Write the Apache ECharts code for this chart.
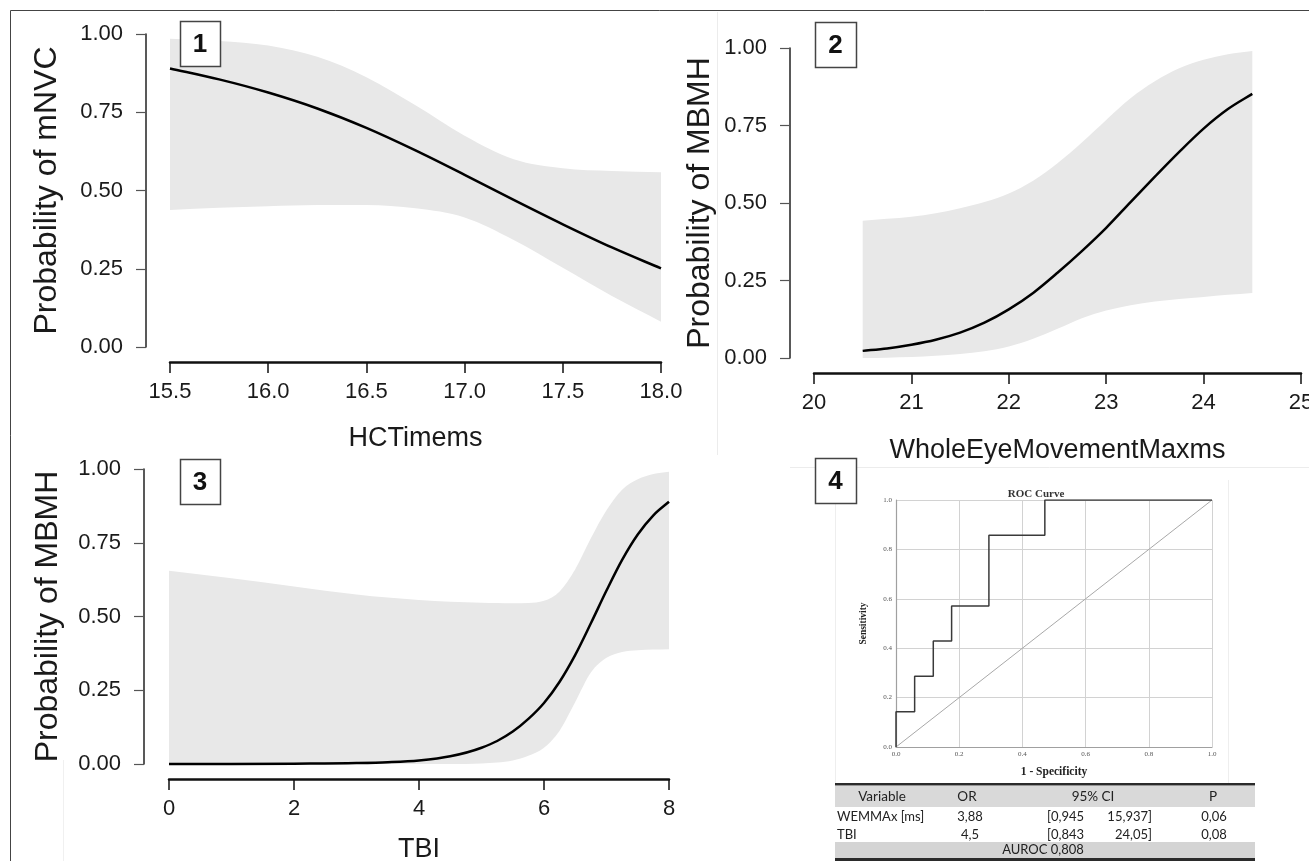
<!DOCTYPE html>
<html><head><meta charset="utf-8">
<script src="https://cdn.jsdelivr.net/npm/echarts@6/dist/echarts.min.js"></script>
<style>html,body{margin:0;padding:0;background:#fff}#c{width:1309px;height:861px}</style>
</head><body><div id="c"></div>
<script>
// ---------- Panel 1 : HCTimems vs probability of mNVC ----------
const p1X     = [15.5, 15.75, 16.0, 16.25, 16.5, 16.75, 17.0, 17.25, 17.5, 17.75, 18.0];
const p1Fit   = [0.890, 0.855, 0.813, 0.762, 0.700, 0.628, 0.550, 0.470, 0.392, 0.318, 0.251];
const p1Lower = [0.438, 0.445, 0.450, 0.454, 0.454, 0.443, 0.414, 0.342, 0.253, 0.163, 0.081];
const p1Upper = [0.985, 0.978, 0.963, 0.927, 0.862, 0.772, 0.675, 0.600, 0.571, 0.562, 0.558];

// ---------- Panel 2 : WholeEyeMovementMaxms vs probability of MBMH ----------
const p2X     = [20.5, 20.75, 21.0, 21.25, 21.5, 21.75, 22.0, 22.25, 22.5, 22.75, 23.0, 23.25, 23.5, 23.75, 24.0, 24.25, 24.5];
const p2Fit   = [0.023, 0.031, 0.043, 0.059, 0.082, 0.114, 0.157, 0.210, 0.275, 0.345, 0.420, 0.503, 0.585, 0.665, 0.740, 0.803, 0.852];
const p2Lower = [0.000, 0.001, 0.003, 0.007, 0.013, 0.022, 0.037, 0.062, 0.094, 0.128, 0.153, 0.170, 0.182, 0.190, 0.197, 0.204, 0.210];
const p2Upper = [0.443, 0.449, 0.456, 0.467, 0.483, 0.503, 0.531, 0.572, 0.628, 0.695, 0.768, 0.838, 0.893, 0.935, 0.962, 0.980, 0.990];

// ---------- Panel 3 : TBI vs probability of MBMH ----------
const p3X     = [0, 1, 2, 3, 3.5, 4, 4.5, 5, 5.25, 5.5, 5.75, 6, 6.25, 6.5, 6.75, 7, 7.25, 7.5, 7.75, 8];
const p3Fit   = [0.000, 0.000, 0.001, 0.003, 0.006, 0.012, 0.026, 0.055, 0.078, 0.110, 0.153, 0.207, 0.279, 0.370, 0.477, 0.588, 0.692, 0.778, 0.843, 0.889];
const p3Lower = [0.000, 0.000, 0.000, 0.000, 0.000, 0.000, 0.000, 0.002, 0.005, 0.012, 0.028, 0.055, 0.113, 0.210, 0.310, 0.360, 0.380, 0.386, 0.388, 0.389];
const p3Upper = [0.655, 0.630, 0.602, 0.575, 0.564, 0.556, 0.550, 0.547, 0.546, 0.545, 0.546, 0.553, 0.585, 0.660, 0.765, 0.860, 0.930, 0.965, 0.983, 0.991];

// ---------- Panel 4 : ROC curve ----------
const rocFpr = [0, 0, 0.059, 0.118, 0.176, 0.294, 0.471, 1];
const rocTpr = [0, 0.143, 0.286, 0.429, 0.571, 0.857, 1, 1];
const refFpr = [0, 1];
const refTpr = [0, 1];

// ---------- Table ----------
const tableHeader = ['Variable', 'OR', '95% CI', 'P'];
const tableRows = [
  ['WEMMAx [ms]', '3,88', '[0,945', '15,937]', '0,06'],
  ['TBI', '4,5', '[0,843', '24,05]', '0,08']
];
const tableFooter = 'AUROC 0,808';
const panelLabels = ['1', '2', '3', '4'];

// ---------- styling ----------
const FONT = '"Liberation Sans", Arial, sans-serif';
const SERIF = '"Liberation Serif", "Times New Roman", serif';
const TFONT = 'Lato, "Open Sans", sans-serif';
const TXT = '#1a1a1a';
const BAND = '#e8e8e8';

// smooth monotone-safe cubic segments through pixel points with increasing x
function monoSegments(pts) {
  const n = pts.length, dx = [], m = [], t = [];
  for (let i = 0; i < n - 1; i++) {
    dx[i] = pts[i + 1][0] - pts[i][0];
    m[i] = (pts[i + 1][1] - pts[i][1]) / dx[i];
  }
  t[0] = m[0]; t[n - 1] = m[n - 2];
  for (let i = 1; i < n - 1; i++) {
    if (m[i - 1] * m[i] <= 0) { t[i] = 0; continue; }
    let d = (m[i - 1] * dx[i] + m[i] * dx[i - 1]) / (dx[i - 1] + dx[i]);
    const lim = 3 * Math.min(Math.abs(m[i - 1]), Math.abs(m[i]));
    if (Math.abs(d) > lim) d = Math.sign(d) * lim;
    t[i] = d;
  }
  const segs = [];
  for (let i = 0; i < n - 1; i++) {
    const h = dx[i] / 3;
    segs.push({
      p0: pts[i], p1: pts[i + 1],
      c1: [pts[i][0] + h, pts[i][1] + t[i] * h],
      c2: [pts[i + 1][0] - h, pts[i + 1][1] - t[i + 1] * h]
    });
  }
  return segs;
}
function fwd(segs) {
  return segs.map(s => 'C' + s.c1[0] + ' ' + s.c1[1] + ' ' + s.c2[0] + ' ' + s.c2[1] + ' ' + s.p1[0] + ' ' + s.p1[1]).join(' ');
}
function bwd(segs) {
  return segs.slice().reverse().map(s => 'C' + s.c2[0] + ' ' + s.c2[1] + ' ' + s.c1[0] + ' ' + s.c1[1] + ' ' + s.p0[0] + ' ' + s.p0[1]).join(' ');
}

function xAx(gi, min, max, interval, dec, name, gap) {
  return {
    type: 'value', gridIndex: gi, min: min, max: max, interval: interval, offset: 15,
    axisLine: { show: true, onZero: false, lineStyle: { color: '#111', width: 2.5 } },
    axisTick: { show: true, length: 11, lineStyle: { color: '#111', width: 1.5 } },
    axisLabel: { fontSize: 22, color: TXT, fontFamily: FONT, margin: 19, showMinLabel: true, showMaxLabel: true,
      formatter: v => v.toFixed(dec) },
    splitLine: { show: false },
    name: name, nameLocation: 'middle', nameGap: gap, nameMoveOverlap: false,
    nameTextStyle: { fontSize: 27, color: TXT, fontFamily: FONT }
  };
}
function yAx(gi, name, gap, offset) {
  return {
    type: 'value', gridIndex: gi, min: 0, max: 1, interval: 0.25, offset: offset,
    axisLine: { show: true, onZero: false, lineStyle: { color: '#222', width: 1.5 } },
    axisTick: { show: true, length: 10, lineStyle: { color: '#555', width: 1.2 } },
    axisLabel: { fontSize: 22, color: TXT, fontFamily: FONT, margin: 23, showMinLabel: true, showMaxLabel: true,
      formatter: v => v.toFixed(2) },
    splitLine: { show: false },
    name: name, nameLocation: 'middle', nameGap: gap, nameMoveOverlap: false,
    nameTextStyle: { fontSize: 32, color: TXT, fontFamily: FONT }
  };
}
// confidence band + fitted curve, drawn through the axes' scales (api.coord)
function probSeries(gi, xs, lo, up, fit) {
  return {
    type: 'custom', xAxisIndex: gi, yAxisIndex: gi, silent: true, clip: false,
    data: xs.map((x, i) => [x, lo[i], up[i], fit[i]]),
    encode: { x: 0, y: [1, 2, 3] },
    renderItem: function (params, api) {
      if (params.dataIndex !== 0) return null;
      const U = xs.map((x, i) => api.coord([x, up[i]]));
      const L = xs.map((x, i) => api.coord([x, lo[i]]));
      const F = xs.map((x, i) => api.coord([x, fit[i]]));
      const bandPath = 'M' + U[0][0] + ' ' + U[0][1] + ' ' + fwd(monoSegments(U)) +
        ' L' + L[L.length - 1][0] + ' ' + L[L.length - 1][1] + ' ' + bwd(monoSegments(L)) + ' Z';
      const fitPath = 'M' + F[0][0] + ' ' + F[0][1] + ' ' + fwd(monoSegments(F));
      return {
        type: 'group', children: [
          { type: 'path', shape: { pathData: bandPath }, style: { fill: BAND, stroke: null } },
          { type: 'path', shape: { pathData: fitPath }, style: { fill: null, stroke: '#000', lineWidth: 2.5 } }
        ]
      };
    }
  };
}

const rocAxisCommon = {
  type: 'value', gridIndex: 3, min: 0, max: 1, interval: 0.2,
  axisLine: { show: true, onZero: false, lineStyle: { color: '#a0a0a0', width: 1.2 } },
  axisTick: { show: false },
  splitLine: { show: true, lineStyle: { color: '#d2d2d2', width: 1 } },
  axisLabel: { fontSize: 7, color: '#555', fontFamily: SERIF, margin: 4, showMinLabel: true, showMaxLabel: true,
    formatter: v => v.toFixed(1) },
  nameLocation: 'middle', nameMoveOverlap: false,
  nameTextStyle: { fontFamily: SERIF, fontWeight: 'bold', color: '#222' }
};

// boxes with panel numbers
const boxes = [[180, 21, 40, 45], [815, 22, 41, 45], [180, 459, 40, 45], [815, 458, 41, 45]];
const graphics = [];
graphics.push({ type: 'line', shape: { x1: 10.5, y1: 10.5, x2: 1309, y2: 10.5 }, style: { stroke: '#444', lineWidth: 1 }, z: 1 });
graphics.push({ type: 'line', shape: { x1: 10.5, y1: 10.5, x2: 10.5, y2: 861 }, style: { stroke: '#444', lineWidth: 1 }, z: 1 });
graphics.push({ type: 'line', shape: { x1: 717.5, y1: 12, x2: 717.5, y2: 455 }, style: { stroke: '#ececec', lineWidth: 1 }, z: 1 });
graphics.push({ type: 'line', shape: { x1: 790, y1: 467.5, x2: 1309, y2: 467.5 }, style: { stroke: '#ececec', lineWidth: 1 }, z: 1 });
graphics.push({ type: 'line', shape: { x1: 835.5, y1: 470, x2: 835.5, y2: 783 }, style: { stroke: '#eeeeee', lineWidth: 1 }, z: 1 });
graphics.push({ type: 'line', shape: { x1: 1228.5, y1: 480, x2: 1228.5, y2: 783 }, style: { stroke: '#eeeeee', lineWidth: 1 }, z: 1 });
graphics.push({ type: 'line', shape: { x1: 63.5, y1: 760, x2: 63.5, y2: 861 }, style: { stroke: '#f0f0f0', lineWidth: 1 }, z: 1 });
boxes.forEach((b, i) => {
  graphics.push({ type: 'rect', shape: { x: b[0] + 0.5, y: b[1] + 0.5, width: b[2], height: b[3] },
    style: { fill: '#fff', stroke: '#444', lineWidth: 1.5 }, z: 20 });
  graphics.push({ type: 'text', x: b[0] + b[2] / 2, y: b[1] + b[3] / 2 + 1, z: 21,
    style: { text: panelLabels[i], fill: '#111', font: 'bold 26px ' + FONT, textAlign: 'center', textVerticalAlign: 'middle' } });
});
// table
const TX = 835, TW = 420;
graphics.push({ type: 'rect', shape: { x: TX, y: 783, width: TW, height: 2.5 }, style: { fill: '#2b2b2b' }, z: 10 });
graphics.push({ type: 'rect', shape: { x: TX, y: 786, width: TW, height: 21 }, style: { fill: '#d9d9d9' }, z: 10 });
graphics.push({ type: 'rect', shape: { x: TX, y: 842, width: TW, height: 16 }, style: { fill: '#d4d4d4' }, z: 10 });
graphics.push({ type: 'rect', shape: { x: TX, y: 858, width: TW, height: 3 }, style: { fill: '#2b2b2b' }, z: 10 });
const headX = [882, 967, 1093, 1213];
tableHeader.forEach((t, i) => graphics.push({ type: 'text', x: headX[i], y: 797, z: 11,
  style: { text: t, fill: '#222', font: '13.5px ' + TFONT, textAlign: 'center', textVerticalAlign: 'middle' } }));
const colX = [837, 970, 1047, 1152, 1214];
const colAlign = ['left', 'center', 'left', 'right', 'center'];
tableRows.forEach((row, r) => row.forEach((t, c) => graphics.push({ type: 'text', x: colX[c], y: 817 + r * 18, z: 11,
  style: { text: t, fill: '#222', font: '13px ' + TFONT, textAlign: colAlign[c], textVerticalAlign: 'middle' } })));
graphics.push({ type: 'text', x: 1043, y: 850, z: 11,
  style: { text: tableFooter, fill: '#222', font: '13px ' + TFONT, textAlign: 'center', textVerticalAlign: 'middle' } });

const option = {
  animation: false,
  backgroundColor: '#fff',
  textStyle: { fontFamily: FONT },
  title: [{ text: 'ROC Curve', left: 1031, top: 484, textAlign: 'center',
    textStyle: { fontFamily: SERIF, fontWeight: 'bold', fontSize: 11, color: '#333' } }],
  grid: [
    { left: 170, top: 34, width: 491, height: 313, outerBoundsMode: 'none', containLabel: false },
    { left: 814, top: 48, width: 487, height: 310, outerBoundsMode: 'none', containLabel: false },
    { left: 169, top: 469, width: 500, height: 295, outerBoundsMode: 'none', containLabel: false },
    { left: 896, top: 500, width: 316, height: 247, outerBoundsMode: 'none', containLabel: false }
  ],
  xAxis: [
    xAx(0, 15.5, 18, 0.5, 1, 'HCTimems', 63),
    xAx(1, 20, 25, 1, 0, 'WholeEyeMovementMaxms', 64),
    xAx(2, 0, 8, 2, 0, 'TBI', 57),
    Object.assign({}, rocAxisCommon, { name: '1 - Specificity', nameGap: 19,
      nameTextStyle: Object.assign({}, rocAxisCommon.nameTextStyle, { fontSize: 11.5 }) })
  ],
  yAxis: [
    yAx(0, 'Probability of mNVC', 83, 24),
    yAx(1, 'Probability of MBMH', 74, 24),
    yAx(2, 'Probability of MBMH', 80, 25),
    Object.assign({}, rocAxisCommon, { name: 'Sensitivity', nameGap: 27,
      nameTextStyle: Object.assign({}, rocAxisCommon.nameTextStyle, { fontSize: 9.5 }) })
  ],
  series: [
    probSeries(0, p1X, p1Lower, p1Upper, p1Fit),
    probSeries(1, p2X, p2Lower, p2Upper, p2Fit),
    probSeries(2, p3X, p3Lower, p3Upper, p3Fit),
    { type: 'line', name: 'chance', xAxisIndex: 3, yAxisIndex: 3, symbol: 'none', silent: true,
      data: refFpr.map((x, i) => [x, refTpr[i]]), lineStyle: { color: '#a8a8a8', width: 1 } },
    { type: 'line', name: 'roc', xAxisIndex: 3, yAxisIndex: 3, symbol: 'none', silent: true, step: 'end',
      data: rocFpr.map((x, i) => [x, rocTpr[i]]), lineStyle: { color: '#3a3a3a', width: 1.5 }, z: 5 }
  ],
  graphic: graphics
};
const chart = echarts.init(document.getElementById('c'), null, { renderer: 'canvas' });
chart.setOption(option);
</script>
</body></html>
